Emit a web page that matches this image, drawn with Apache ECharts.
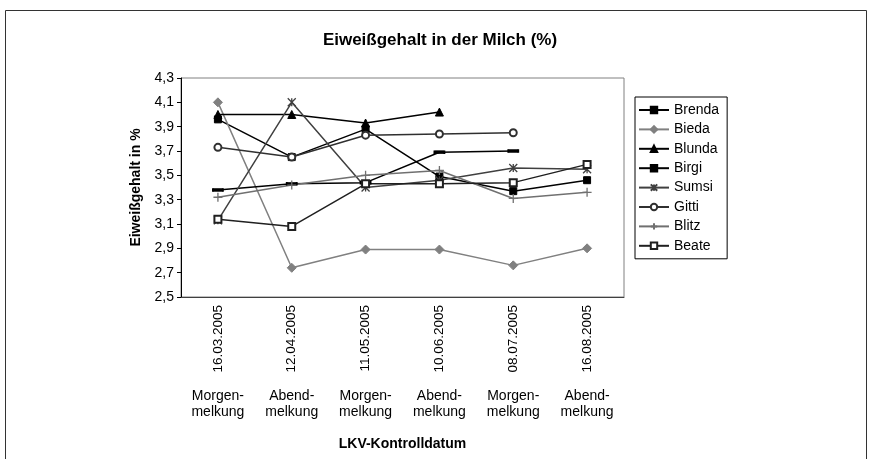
<!DOCTYPE html>
<html>
<head>
<meta charset="utf-8">
<script src="https://cdn.jsdelivr.net/npm/echarts@6/dist/echarts.min.js"></script>
<style>
  html, body { margin: 0; padding: 0; background: #fff; }
  #main { width: 872px; height: 459px; }
</style>
</head>
<body>
<div id="main"></div>
<script>
// Kontrolltermine
const dates = ['16.03.2005', '12.04.2005', '11.05.2005', '10.06.2005', '08.07.2005', '16.08.2005']
const melkung = ['Morgen-\nmelkung', 'Abend-\nmelkung', 'Morgen-\nmelkung', 'Abend-\nmelkung', 'Morgen-\nmelkung', 'Abend-\nmelkung']

// Eiweißgehalt je Kuh (%)
const brenda = [3.96, 3.65, 3.88, 3.49, 3.37, 3.46]
const bieda  = [4.10, 2.74, 2.89, 2.89, 2.76, 2.90]
const blunda = [4.00, 4.00, 3.93, 4.02, null, null]
const birgi  = [3.38, 3.43, 3.44, 3.69, 3.70, null]
const sumsi  = [3.13, 4.10, 3.40, 3.46, 3.56, 3.55]
const gitti  = [3.73, 3.65, 3.83, 3.84, 3.85, null]
const blitz  = [3.32, 3.42, 3.50, 3.54, 3.31, 3.36]
const beate  = [3.14, 3.08, 3.43, 3.43, 3.44, 3.59]

const font = 'Liberation Sans, Arial, sans-serif'

function mkSeries(name, data, color, symbol, size, extra) {
  return Object.assign({
    name: name,
    type: 'line',
    data: data,
    symbol: symbol,
    symbolSize: size,
    showAllSymbol: true,
    connectNulls: false,
    animation: false,
    lineStyle: { color: color, width: 1.5 },
    itemStyle: { color: color, borderColor: color, borderWidth: 1 }
  }, extra || {})
}

const chart = echarts.init(document.getElementById('main'))
chart.setOption({
  animation: false,
  textStyle: { fontFamily: font },
  title: {
    text: 'Eiweißgehalt in der Milch (%)',
    left: 435,
    textAlign: 'center',
    top: 27,
    textStyle: { fontSize: 17, fontWeight: 'bold', color: '#000', fontFamily: font }
  },
  graphic: [{
    type: 'rect',
    shape: { x: 5.5, y: 10.5, width: 861, height: 470 },
    style: { fill: 'none', stroke: '#333', lineWidth: 1 },
    silent: true
  }],
  legend: {
    orient: 'vertical',
    left: 635,
    top: 97,
    itemWidth: 30,
    itemHeight: 8,
    itemGap: 5.4,
    padding: [6, 8, 6, 3],
    borderColor: '#000',
    borderWidth: 1,
    borderRadius: 0,
    textStyle: { fontSize: 14, color: '#000', fontFamily: font, lineHeight: 14 },
    data: ['Brenda', 'Bieda', 'Blunda', 'Birgi', 'Sumsi', 'Gitti', 'Blitz', 'Beate']
  },
  grid: {
    left: 181, right: 248, top: 78, bottom: 162,
    show: true, borderColor: '#808080', borderWidth: 1, backgroundColor: '#fff'
  },
  xAxis: [{
    type: 'category',
    data: dates,
    boundaryGap: true,
    axisLine: { lineStyle: { color: '#404040', width: 1 } },
    axisTick: { show: false },
    axisLabel: { rotate: 90, fontSize: 13.5, color: '#000', margin: 8, fontFamily: font }
  }, {
    type: 'category',
    data: melkung,
    position: 'bottom',
    offset: 91,
    axisLine: { show: false },
    axisTick: { show: false },
    axisLabel: { fontSize: 14, color: '#000', lineHeight: 16, margin: 0, fontFamily: font },
    name: 'LKV-Kontrolldatum',
    nameLocation: 'middle',
    nameGap: 49,
    nameTextStyle: { fontSize: 14, fontWeight: 'bold', color: '#000', fontFamily: font }
  }],
  yAxis: {
    type: 'value',
    min: 2.5,
    max: 4.3,
    interval: 0.2,
    name: 'Eiweißgehalt in %',
    nameLocation: 'middle',
    nameGap: 33,
    nameTextStyle: { fontSize: 14, fontWeight: 'bold', color: '#000', fontFamily: font },
    axisLine: { show: true, lineStyle: { color: '#000', width: 1 } },
    axisTick: { show: true, length: 4, lineStyle: { color: '#000' } },
    splitLine: { show: false },
    axisLabel: {
      fontSize: 14, color: '#000', margin: 7, fontFamily: font,
      formatter: v => v.toFixed(1).replace('.', ',')
    }
  },
  series: [
    mkSeries('Brenda', brenda, '#000', 'rect', 7),
    mkSeries('Bieda', bieda, '#808080', 'diamond', 9),
    mkSeries('Blunda', blunda, '#000', 'triangle', 8),
    mkSeries('Birgi', birgi, '#000', 'rect', [10, 3]),
    mkSeries('Sumsi', sumsi, '#404040', 'path://M0,0L10,10M10,0L0,10M5,0L5,10', 8,
      { itemStyle: { color: 'none', borderColor: '#404040', borderWidth: 1.3 } }),
    mkSeries('Gitti', gitti, '#303030', 'emptyCircle', 7,
      { itemStyle: { color: '#303030', borderColor: '#303030', borderWidth: 1.2 } }),
    mkSeries('Blitz', blitz, '#707070', 'path://M5,0L5,10M0,5L10,5', 9,
      { itemStyle: { color: 'none', borderColor: '#707070', borderWidth: 1.3 } }),
    mkSeries('Beate', beate, '#202020', 'emptyRect', 7,
      { itemStyle: { color: '#202020', borderColor: '#202020', borderWidth: 1.2 } })
  ]
})
</script>
</body>
</html>
